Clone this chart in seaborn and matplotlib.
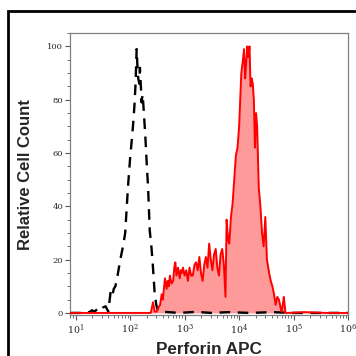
import numpy as np
import pandas as pd
import matplotlib.pyplot as plt
import seaborn as sns
from matplotlib.patches import Rectangle
from matplotlib.ticker import LogLocator, LogFormatterMathtext, MultipleLocator

# Isotipo (linha tracejada preta) - posicoes em log10 e contagem relativa
iso_log = [0.90, 1.20, 1.27, 1.30, 1.35, 1.40, 1.45, 1.50, 1.55, 1.60, 1.64, 1.67,
           1.70, 1.73, 1.77, 1.82, 1.87, 1.91, 1.96, 2.00, 2.04, 2.06, 2.08, 2.10,
           2.12, 2.14, 2.15, 2.17, 2.18, 2.20, 2.21, 2.23, 2.25, 2.28, 2.30, 2.33,
           2.36, 2.39, 2.41, 2.45, 2.48, 2.50, 2.55, 2.70, 2.90, 3.20, 3.50, 3.80,
           4.20, 4.60, 5.00, 6.00]
iso_count = [0, 0, 0.5, 1, 0.5, 1.5, 0.8, 2, 2.5, 0.5, 7.5, 6,
             9, 10, 14, 20, 25, 30, 47, 58, 67, 72, 78, 86,
             99, 90, 88, 86, 92, 84, 79, 82, 76, 66, 58, 47,
             31, 25, 20, 7.5, 3, 1.5, 0.5, 0.3, 0, 0.4, 0, 0.3,
             0, 0.3, 0, 0]

# Perforina (vermelho preenchido)
perf_log = [0.90, 2.38, 2.42, 2.45, 2.49, 2.52, 2.55, 2.58, 2.60, 2.62, 2.64, 2.67,
            2.69, 2.71, 2.73, 2.76, 2.79, 2.81, 2.83, 2.85, 2.88, 2.91, 2.93, 2.95,
            2.97, 3.00, 3.03, 3.06, 3.09, 3.12, 3.15, 3.18, 3.21, 3.24, 3.27, 3.30,
            3.33, 3.36, 3.39, 3.42, 3.45, 3.48, 3.51, 3.54, 3.57, 3.60, 3.63, 3.66,
            3.69, 3.72, 3.75, 3.77, 3.80, 3.82, 3.85, 3.88, 3.91, 3.94, 3.97, 4.00,
            4.02, 4.04, 4.07, 4.09, 4.11, 4.13, 4.15, 4.17, 4.19, 4.21, 4.23, 4.25,
            4.27, 4.29, 4.31, 4.33, 4.36, 4.39, 4.42, 4.45, 4.48, 4.51, 4.55, 4.58,
            4.61, 4.64, 4.67, 4.70, 4.73, 4.76, 4.78, 4.80, 4.82, 4.85, 4.90, 5.20,
            5.60, 6.00]
perf_count = [0, 0, 4, 0.5, 0.5, 2, 3, 7, 5, 9, 13, 9,
              12, 10, 14, 11, 12, 17, 19, 14, 17, 13, 16, 15,
              17, 14, 16, 12, 17, 14, 14, 18, 19, 16, 21, 15,
              12, 18, 21, 17, 26, 20, 16, 22, 24, 17, 14, 22,
              24, 18, 6, 35, 27, 26, 36, 41, 50, 59, 62, 70,
              80, 90, 95, 99, 88, 94, 100, 96, 100, 85, 88, 86,
              80, 62, 75, 70, 47, 40, 30, 25, 36, 20, 15, 12,
              10, 7, 3, 6, 5, 2, 0.5, 3, 6, 0, 0, 0.3,
              0, 0]

iso = pd.DataFrame({'x': np.power(10.0, iso_log), 'y': iso_count})
perf = pd.DataFrame({'x': np.power(10.0, perf_log), 'y': perf_count})

sns.set_style('white')
plt.rcParams['font.family'] = ['DejaVu Serif']
plt.rcParams['mathtext.fontset'] = 'dejavuserif'

fig = plt.figure(figsize=(3.56, 3.56), dpi=100)
ax = fig.add_axes([0.197, 0.115, 0.781, 0.792])

# moldura externa cortada
fig.patches.append(Rectangle((8 / 356, -0.1), 1.2, 1 - 11 / 356 + 0.1,
                             transform=fig.transFigure, fill=False,
                             edgecolor='black', linewidth=2))

ax.fill_between(perf['x'], perf['y'], 0, color='#ff9a9a', linewidth=0, zorder=1)
sns.lineplot(data=perf, x='x', y='y', color='#ff0000', linewidth=1.4,
             sort=False, ax=ax, zorder=3)
sns.lineplot(data=iso, x='x', y='y', color='black', linewidth=1.7,
             sort=False, ax=ax, zorder=2, dashes=False)
ax.lines[-1].set_dashes([4.5, 3.2])

ax.set_xscale('log')
ax.set_xlim(10 ** 0.9, 10 ** 6.0)
ax.set_ylim(-0.8, 105)

ax.xaxis.set_major_locator(LogLocator(base=10, numticks=10))
ax.xaxis.set_major_formatter(LogFormatterMathtext())
ax.xaxis.set_minor_locator(LogLocator(base=10, subs=np.arange(2, 10), numticks=20))
ax.yaxis.set_major_locator(MultipleLocator(20))
ax.yaxis.set_minor_locator(MultipleLocator(5))

ax.tick_params(axis='both', which='major', direction='out', length=3.5, width=0.8,
               color='#555555', pad=1.5, bottom=True, left=True)
ax.tick_params(axis='y', which='major', labelsize=6)
ax.tick_params(axis='x', which='major', labelsize=6.8)
ax.tick_params(axis='both', which='minor', direction='out', length=2, width=0.6,
               color='#555555', bottom=True, left=True)

for s in ax.spines.values():
    s.set_color('#808080')
    s.set_linewidth(0.9)

ax.set_xlabel('Perforin APC', family='Liberation Sans', fontweight='bold',
              fontsize=12.3, labelpad=4)
ax.set_ylabel('Relative Cell Count', family='Liberation Sans', fontweight='bold',
              fontsize=12, labelpad=10)

fig.savefig('out.png', dpi=100)
